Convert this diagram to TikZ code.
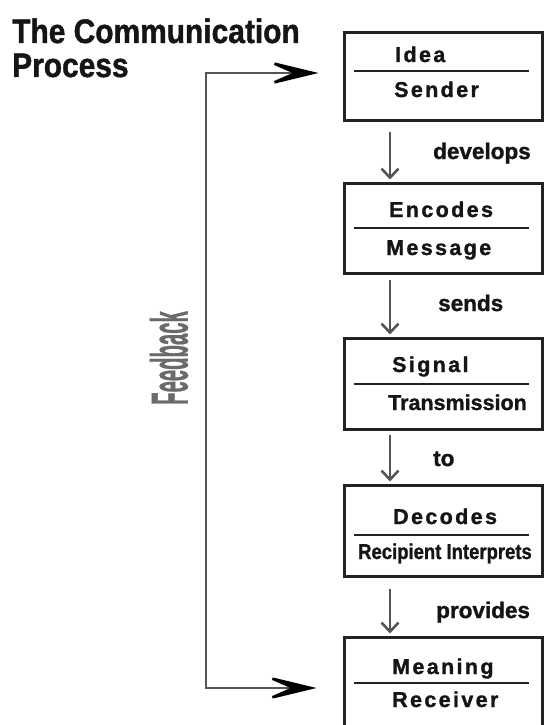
\documentclass[tikz,border=0pt]{standalone}
\usepackage{fontspec}
\setmainfont{Liberation Sans}
\newfontfamily\hv[FakeBold=1.3]{Liberation Sans}
\newfontfamily\hvsp[FakeBold=1.3,LetterSpace=11]{Liberation Sans}
\newfontfamily\fbfont[FakeBold=1]{Liberation Sans}
\usetikzlibrary{arrows.meta,calc}
\definecolor{boxc}{HTML}{222222}
\definecolor{arrc}{HTML}{555555}
\definecolor{fbc}{HTML}{6A6A6A}
\definecolor{txt}{HTML}{151515}
\begin{document}
\begin{tikzpicture}[x=1pt,y=-1pt,
  box/.style={draw=boxc, line width=3pt, minimum width=198pt, inner sep=0pt, rectangle},
  divline/.style={draw=boxc, line width=1.8pt},
  sp/.style={anchor=base west, font=\hvsp\bfseries\fontsize{21.5}{21.5}\selectfont, text=txt, inner sep=0pt},
  tight/.style={anchor=base west, font=\hv\bfseries\fontsize{21.5}{21.5}\selectfont, text=txt, inner sep=0pt},
  lab/.style={anchor=base west, font=\hv\bfseries\fontsize{22.5}{22.5}\selectfont, text=txt, inner sep=0pt},
  flow/.style={draw=arrc, line width=1.6pt, -{Straight Barb[length=9pt,width=17pt,line width=2.6pt]}},
  fb/.style={draw=arrc, line width=2.6pt, line join=miter,
    {Stealth[length=58pt,width=28pt,inset=32pt,color=black]}-{Stealth[length=58pt,width=28pt,inset=32pt,color=black]}},
  ttl/.style={anchor=base west, inner sep=0pt, text=txt, font=\hv\bfseries\fontsize{34}{34}\selectfont}
]
\useasboundingbox (0,0) rectangle (545,725);
\clip (0,0) rectangle (545,725);

% title
\node[ttl] (title1) at (12,43) {\scalebox{0.88}[1]{The Communication}};
\node[ttl] (title2) at (12,77) {\scalebox{0.88}[1]{Process}};

% boxes
\node[box, minimum height=87pt] (b1) at (443,76.5) {};
\node[box, minimum height=90pt] (b2) at (443,228) {};
\node[box, minimum height=91pt] (b3) at (443,383.5) {};
\node[box, minimum height=91pt] (b4) at (443,530.5) {};
\node[box, minimum height=100pt] (b5) at (443,687) {};

% dividers
\draw[divline] ($(b1.west)+(11,-5.5)$) -- ++(175,0);
\draw[divline] ($(b2.west)+(11,0)$) -- ++(175,0);
\draw[divline] ($(b3.west)+(11,0.5)$) -- ++(175,0);
\draw[divline] ($(b4.west)+(11,4.5)$) -- ++(175,0);
\draw[divline] ($(b5.west)+(11,-4)$) -- ++(175,0);

% box texts
\node[sp] (t1a) at (395,62) {Idea};
\node[sp] (t1b) at (394,97) {Sender};
\node[sp] (t2a) at (389,217) {Encodes};
\node[sp] (t2b) at (386,255) {Message};
\node[sp] (t3a) at (392,372) {Signal};
\node[tight] (t3b) at (388,410) {Transmission};
\node[sp] (t4a) at (393,524) {Decodes};
\node[tight, anchor=base] (t4b) at (445,559) {\scalebox{0.86}[1]{Recipient Interprets}};
\node[sp] (t5a) at (392,674) {Meaning};
\node[sp] (t5b) at (392,707) {Receiver};

% labels
\node[lab] (l1) at (433,159) {develops};
\node[lab] (l2) at (438,311) {sends};
\node[lab] (l3) at (433,466) {to};
\node[lab] (l4) at (436,618) {provides};

% flow arrows
\draw[flow] ($(b1.south)+(-53,10)$) -- ($(b2.north)+(-53,-2)$);
\draw[flow] ($(b2.south)+(-53,5)$) -- ($(b3.north)+(-53,-2)$);
\draw[flow] ($(b3.south)+(-53,4)$) -- ($(b4.north)+(-53,-2)$);
\draw[flow] ($(b4.south)+(-53,11)$) -- ($(b5.north)+(-53,-2)$);

% feedback
\coordinate (in1) at ($(b1.west)+(-24,-3.5)$);
\coordinate (in5) at ($(b5.west)+(-26,1)$);
\coordinate (spine) at (206,0);
\draw[fb] (in5) -- (in5 -| spine) -- (in1 -| spine) -- (in1);
\node[rotate=90, text=fbc, inner sep=0pt, font=\fbfont\bfseries\fontsize{52}{52}\selectfont] (fbl) at (169,358) {\scalebox{0.39}[1]{Feedback}};
\end{tikzpicture}
\end{document}
